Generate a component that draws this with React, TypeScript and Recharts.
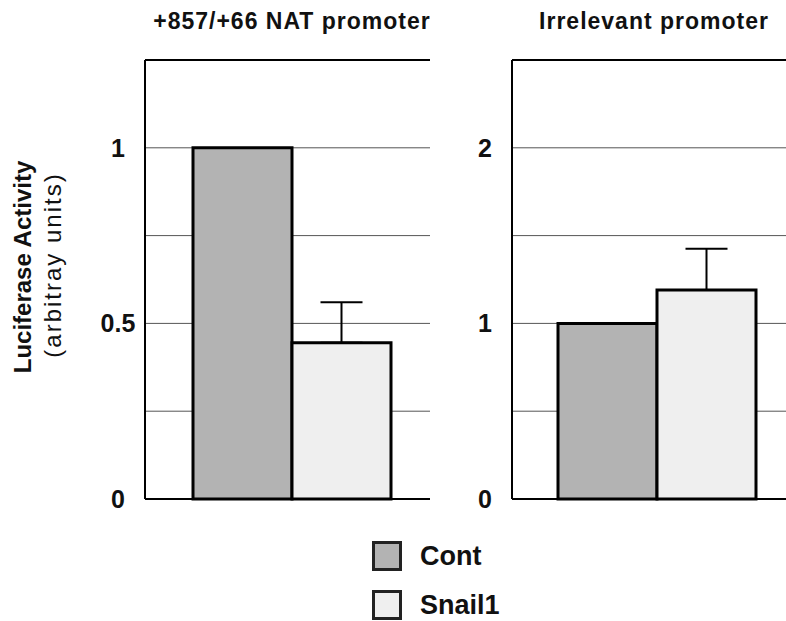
import React from "react";
import {
  BarChart,
  Bar,
  XAxis,
  YAxis,
  CartesianGrid,
  ErrorBar,
} from "recharts";

// page has default margins; drop them so the figure fills the window
if (typeof document !== "undefined") {
  document.body.style.margin = "0";
  document.documentElement.style.overflow = "hidden";
  document.body.style.overflow = "hidden";
}

const groups = ["Luciferase"];
const natCont = [1.0];
const natSnail = [0.445];
const natSnailErr = [0.115];
const irrCont = [1.0];
const irrSnail = [1.19];
const irrSnailErr = [0.235];

const natTicks = [0, 0.25, 0.5, 0.75, 1, 1.25];
const natLabels = ["0", "0.5", "1"];
const irrTicks = [0, 0.5, 1, 1.5, 2, 2.5];
const irrLabels = ["0", "1", "2"];

const natData = groups.map((g, i) => ({
  name: g,
  cont: natCont[i],
  snail: natSnail[i],
  err: [0, natSnailErr[i]],
}));
const irrData = groups.map((g, i) => ({
  name: g,
  cont: irrCont[i],
  snail: irrSnail[i],
  err: [0, irrSnailErr[i]],
}));

const FONT = "Arial, 'Liberation Sans', sans-serif";
const CONT_FILL = "#b3b3b3";
const SNAIL_FILL = "#efefef";
const AXIS = { stroke: "#000", strokeWidth: 2 };

// only some tick values carry a label
function makeTick(labels: string[]) {
  // eslint-disable-next-line @typescript-eslint/no-explicit-any
  return function Tick({ x, y, payload }: any) {
    const txt = String(payload.value);
    if (!labels.includes(txt)) return null;
    return (
      <text
        x={x - 19}
        y={y}
        dy={9}
        textAnchor="middle"
        fontFamily={FONT}
        fontWeight="bold"
        fontSize={25}
        fill="#111"
      >
        {txt}
      </text>
    );
  };
}

function Panel({
  data,
  ticks,
  labels,
  max,
  width,
  right,
  padLeft,
  rightBorder,
}: {
  data: typeof natData;
  ticks: number[];
  labels: string[];
  max: number;
  width: number;
  right: number;
  padLeft: number;
  rightBorder: boolean;
}) {
  return (
    <BarChart
      width={width}
      height={520}
      data={data}
      margin={{ top: 59, right, left: 105, bottom: 20 }}
      barGap={0}
      barSize={99}
    >
      <CartesianGrid vertical={false} stroke="#555" strokeWidth={1} />
      <XAxis
        dataKey="name"
        height={1}
        tick={false}
        tickLine={false}
        axisLine={AXIS}
        padding={{ left: padLeft, right: 0 }}
      />
      <XAxis
        xAxisId="top"
        dataKey="name"
        orientation="top"
        height={1}
        tick={false}
        tickLine={false}
        axisLine={AXIS}
      />
      <YAxis
        domain={[0, max]}
        ticks={ticks}
        width={40}
        axisLine={AXIS}
        tickLine={false}
        tick={makeTick(labels)}
        interval={0}
      />
      {rightBorder && (
        <YAxis
          yAxisId="right"
          orientation="right"
          domain={[0, max]}
          width={0}
          axisLine={AXIS}
          tickLine={false}
          tick={false}
        />
      )}
      <Bar
        dataKey="cont"
        fill={CONT_FILL}
        stroke="#000"
        strokeWidth={3}
        isAnimationActive={false}
      />
      <Bar
        dataKey="snail"
        fill={SNAIL_FILL}
        stroke="#000"
        strokeWidth={3}
        isAnimationActive={false}
      >
        <ErrorBar
          dataKey="err"
          direction="y"
          width={21}
          stroke="#000"
          strokeWidth={2}
          isAnimationActive={false}
        />
      </Bar>
    </BarChart>
  );
}

const titleStyle: React.CSSProperties = {
  position: "absolute",
  top: 8,
  fontFamily: FONT,
  fontWeight: "bold",
  fontSize: 23,
  letterSpacing: 1,
  color: "#111",
  whiteSpace: "nowrap",
  transform: "translateX(-50%)",
};

const legendItems = [
  { name: "Cont", fill: CONT_FILL },
  { name: "Snail1", fill: SNAIL_FILL },
];

export default function App() {
  return (
    <div
      style={{
        position: "relative",
        width: 786,
        height: 621,
        overflow: "hidden",
        background: "#fff",
        fontFamily: FONT,
      }}
    >
      <div style={{ position: "absolute", left: 0, top: 0, width: 440, height: 520 }}>
        <Panel
          data={natData}
          ticks={natTicks}
          labels={natLabels}
          max={1.25}
          width={440}
          right={10}
          padLeft={8}
          rightBorder
        />
      </div>
      <div style={{ position: "absolute", left: 367, top: 0, width: 419, height: 520 }}>
        <Panel
          data={irrData}
          ticks={irrTicks}
          labels={irrLabels}
          max={2.5}
          width={419}
          right={0}
          padLeft={16}
          rightBorder={false}
        />
      </div>

      <div style={{ ...titleStyle, left: 292 }}>+857/+66 NAT promoter</div>
      <div style={{ ...titleStyle, left: 654 }}>Irrelevant promoter</div>

      <div
        style={{
          position: "absolute",
          left: 23,
          top: 267,
          transform: "translate(-50%, -50%) rotate(-90deg)",
          whiteSpace: "nowrap",
          fontSize: 24,
          lineHeight: 1,
          fontWeight: "bold",
          color: "#111",
        }}
      >
        Luciferase Activity
      </div>
      <div
        style={{
          position: "absolute",
          left: 53,
          top: 265,
          transform: "translate(-50%, -50%) rotate(-90deg)",
          whiteSpace: "nowrap",
          fontSize: 24,
          lineHeight: 1,
          letterSpacing: 2,
          color: "#111",
        }}
      >
        (arbitray units)
      </div>

      {legendItems.map((it, i) => (
        <div
          key={it.name}
          style={{
            position: "absolute",
            left: 372,
            top: 541 + i * 49,
            height: 30,
            display: "flex",
            alignItems: "center",
            gap: 18,
          }}
        >
          <span
            style={{
              width: 24,
              height: 24,
              background: it.fill,
              border: "3px solid #222",
              display: "inline-block",
            }}
          />
          <span
            style={{ fontSize: 27, lineHeight: 1, fontWeight: "bold", color: "#111" }}
          >
            {it.name}
          </span>
        </div>
      ))}
    </div>
  );
}
